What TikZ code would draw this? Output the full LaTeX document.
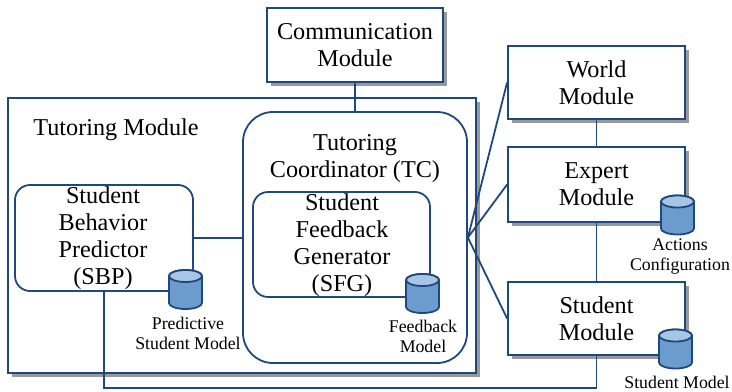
\documentclass[tikz,border=0pt]{standalone}
\usepackage{fontspec}
\setmainfont{Liberation Serif}
\usetikzlibrary{shadows}
\definecolor{linecol}{RGB}{31,73,125}
\definecolor{dbbody}{RGB}{108,155,205}
\definecolor{dbtop}{RGB}{167,197,228}
\newcommand{\bigtxt}{\fontsize{12.1}{13.5}\selectfont}
\newcommand{\smalltxt}{\fontsize{8.9}{10}\selectfont}
\begin{document}
\begin{tikzpicture}[x=0.5pt,y=0.5pt,yscale=-1,
  module/.style={draw=linecol, line width=0.9pt, fill=white, rectangle,
    drop shadow={shadow xshift=2pt, shadow yshift=-2pt, fill=black!40, opacity=1}},
  unit/.style={draw=linecol, line width=0.9pt, fill=white, rounded corners=7.5pt},
  dbline/.style={draw=linecol, line width=0.9pt},
  txt/.style={align=center, font=\bigtxt, inner sep=0pt},
  dbtxt/.style={align=center, font=\smalltxt, inner sep=0pt},
  link/.style={draw=linecol, line width=0.9pt}]
\useasboundingbox (0,0) rectangle (732,391);
%
\node[module, minimum width=234pt, minimum height=137.5pt](tm) at (242,235.5) {};
\node[txt](tmlabel) at (116,130) {Tutoring Module};
\node[module, minimum width=88pt, minimum height=37pt, txt, inner sep=0pt](comm) at (355,45) {Communication\\Module};
\node[unit, rounded corners=15pt, minimum width=112pt, minimum height=125.5pt](tc) at (355,237.5) {};
\node[txt](tclabel) at (355,158.5) {Tutoring\\Coordinator (TC)};
\node[unit, minimum width=88.5pt, minimum height=52.5pt](sfg) at (341.5,244.5) {};
\node[txt](sfglabel) at (342,245.5) {Student\\Feedback\\Generator\\(SFG)};
\node[unit, minimum width=89pt, minimum height=53pt](sbp) at (104,238) {};
\node[txt](sbplabel) at (103,238.5) {Student\\Behavior\\Predictor\\(SBP)};
%
\node[module, minimum width=88.5pt, minimum height=36.5pt, txt](world) at (596.5,82.5) {World\\Module};
\node[module, minimum width=88.5pt, minimum height=37.5pt, txt](expert) at (596.5,184.5) {Expert\\Module};
\node[module, minimum width=88.5pt, minimum height=36.5pt, txt](student) at (596.5,318.5) {Student\\Module};
%
\draw[link](comm) -- (tc);
\draw[link](sbp.east) -- (sbp.east -| tc.west);
\draw[link](tc.east) -- (world.west);
\draw[link](tc.east) -- (expert.west);
\draw[link](tc.east) -- (student.west);
\draw[link](world) -- (expert);
\draw[link](expert) -- (student);
\coordinate(bend) at (104,388);
\draw[link](sbp.south) -- (bend) -| (student.south);
%
% databases
\foreach \cx/\cy in {185.5/289.5, 422.5/293.5, 677.5/215, 675.5/349}{
  \begin{scope}[shift={(\cx,\cy)}]
    \filldraw[dbline, fill=dbbody] (-16.5,-13.5) -- (-16.5,13.5) arc(180:0:16.5 and 6)
      -- (16.5,-13.5) arc(0:-180:16.5 and 6) -- cycle;
    \filldraw[dbline, fill=dbtop] (0,-13.5) ellipse (16.5 and 6);
  \end{scope}
}
\node[dbtxt](predlabel) at (188,333) {Predictive\\Student Model};
\node[dbtxt](fblabel) at (423,336.5) {Feedback\\Model};
\node[dbtxt](actlabel) at (680,256.5) {Actions\\Configuration};
\node[dbtxt](stlabel) at (677,382) {Student Model};
\end{tikzpicture}
\end{document}
